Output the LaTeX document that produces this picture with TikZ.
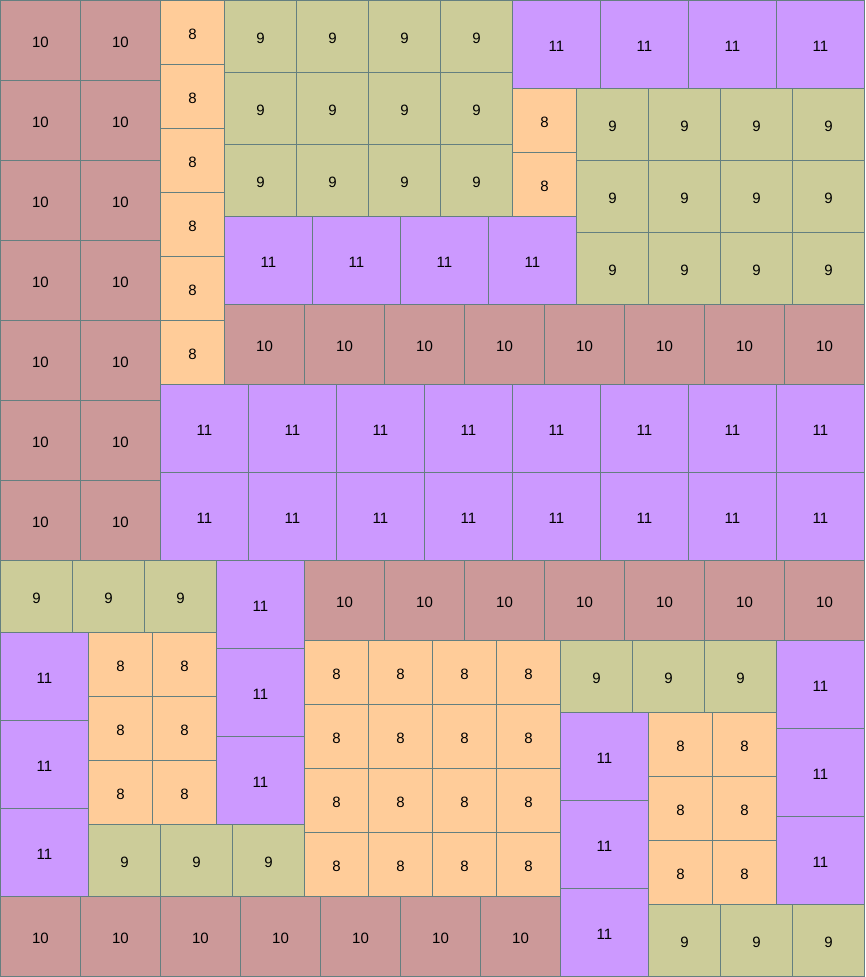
\documentclass[tikz,border=0pt]{standalone}
\usepackage{fontspec}
\setmainfont{Liberation Sans}
\definecolor{cten}{HTML}{CC9999}
\definecolor{ceight}{HTML}{FFCC99}
\definecolor{cnine}{HTML}{CCCC99}
\definecolor{celeven}{HTML}{CC99FF}
\definecolor{cedge}{HTML}{647F80}
\tikzset{tile/.style={draw=cedge,line width=1pt,inner sep=0pt,outer sep=0pt,font=\fontsize{15}{17}\selectfont}}
% x y cols rows size color label
\newcommand\tileblock[7]{%
  \foreach \i in {1,...,#3}{\foreach \j in {1,...,#4}{%
    \node[tile,fill=#6,minimum width=#5pt,minimum height=#5pt] (t-#1-#2-\i-\j) at ({#1+#5*(\i-0.5)+0.5},{#2+#5*(\j-0.5)+0.5}) {\raisebox{-1pt}[11pt][0pt]{#7}};
  }}}
\begin{document}
\begin{tikzpicture}[x=1pt,y=-1pt]
\useasboundingbox (0,0) rectangle (865,977);
\fill[white] (0,0) rectangle (865,977);
% top half
\tileblock{0}{0}{2}{7}{80}{cten}{10}
\tileblock{160}{0}{1}{6}{64}{ceight}{8}
\tileblock{224}{0}{4}{3}{72}{cnine}{9}
\tileblock{512}{0}{4}{1}{88}{celeven}{11}
\tileblock{512}{88}{1}{2}{64}{ceight}{8}
\tileblock{576}{88}{4}{3}{72}{cnine}{9}
\tileblock{224}{216}{4}{1}{88}{celeven}{11}
\tileblock{224}{304}{8}{1}{80}{cten}{10}
\tileblock{160}{384}{8}{2}{88}{celeven}{11}
% bottom half
\tileblock{0}{560}{3}{1}{72}{cnine}{9}
\tileblock{216}{560}{1}{3}{88}{celeven}{11}
\tileblock{304}{560}{7}{1}{80}{cten}{10}
\tileblock{0}{632}{1}{3}{88}{celeven}{11}
\tileblock{88}{632}{2}{3}{64}{ceight}{8}
\tileblock{88}{824}{3}{1}{72}{cnine}{9}
\tileblock{0}{896}{7}{1}{80}{cten}{10}
\tileblock{304}{640}{4}{4}{64}{ceight}{8}
\tileblock{560}{640}{3}{1}{72}{cnine}{9}
\tileblock{560}{712}{1}{3}{88}{celeven}{11}
\tileblock{648}{712}{2}{3}{64}{ceight}{8}
\tileblock{776}{640}{1}{3}{88}{celeven}{11}
\tileblock{648}{904}{3}{1}{72}{cnine}{9}
\end{tikzpicture}
\end{document}
